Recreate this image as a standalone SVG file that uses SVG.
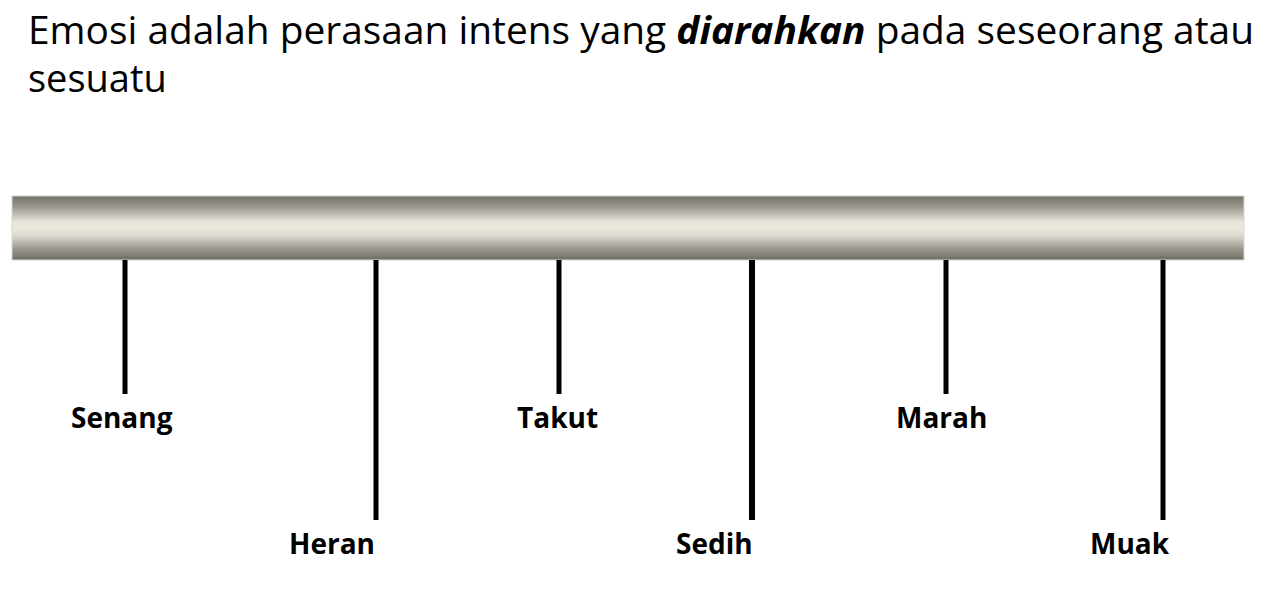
<svg xmlns="http://www.w3.org/2000/svg" width="1280" height="594" viewBox="0 0 1280 594">
  <defs>
    <linearGradient id="barGrad" x1="0" y1="0" x2="0" y2="1">
      <stop offset="0" stop-color="#73716a"/>
      <stop offset="0.18" stop-color="#9e9b92"/>
      <stop offset="0.4" stop-color="#e6e4d9"/>
      <stop offset="0.5" stop-color="#eceade"/>
      <stop offset="0.62" stop-color="#dcdacf"/>
      <stop offset="0.82" stop-color="#9b988f"/>
      <stop offset="1" stop-color="#6e6c66"/>
    </linearGradient>
    <style>
      .title { font-family: "Open Sans", "Noto Sans", sans-serif; font-size: 38px; fill: #000; }
      .emph { font-weight: bold; font-style: italic; }
      .label { font-family: "Open Sans", "Noto Sans", sans-serif; font-size: 28px; font-weight: bold; fill: #000; }
      .tick { stroke: #000; stroke-width: 5; fill: none; }
    </style>
  </defs>
  <rect width="1280" height="594" fill="#ffffff"/>

  <g id="title">
    <text class="title" x="28" y="44" textLength="1226" lengthAdjust="spacingAndGlyphs">Emosi adalah perasaan intens yang <tspan class="emph">diarahkan</tspan> pada seseorang atau</text>
    <text class="title" x="28" y="92">sesuatu</text>
  </g>

  <g id="bar">
    <rect x="12" y="196" width="1232" height="64" fill="url(#barGrad)" stroke="#d6d6d2" stroke-width="1"/>
  </g>

  <g id="connectors">
    <line class="tick" x1="125" y1="260" x2="125" y2="394"/>
    <line class="tick" x1="376" y1="260" x2="376" y2="520"/>
    <line class="tick" x1="559" y1="260" x2="559" y2="394"/>
    <line class="tick" x1="752" y1="260" x2="752" y2="520" style="stroke-width:6"/>
    <line class="tick" x1="946" y1="260" x2="946" y2="394"/>
    <line class="tick" x1="1163" y1="260" x2="1163" y2="520"/>
  </g>

  <g id="node-senang"><text class="label" x="71" y="428">Senang</text></g>
  <g id="node-heran"><text class="label" x="289" y="554">Heran</text></g>
  <g id="node-takut"><text class="label" x="517" y="428">Takut</text></g>
  <g id="node-sedih"><text class="label" x="676" y="554">Sedih</text></g>
  <g id="node-marah"><text class="label" x="896" y="428">Marah</text></g>
  <g id="node-muak"><text class="label" x="1090" y="554">Muak</text></g>
</svg>
